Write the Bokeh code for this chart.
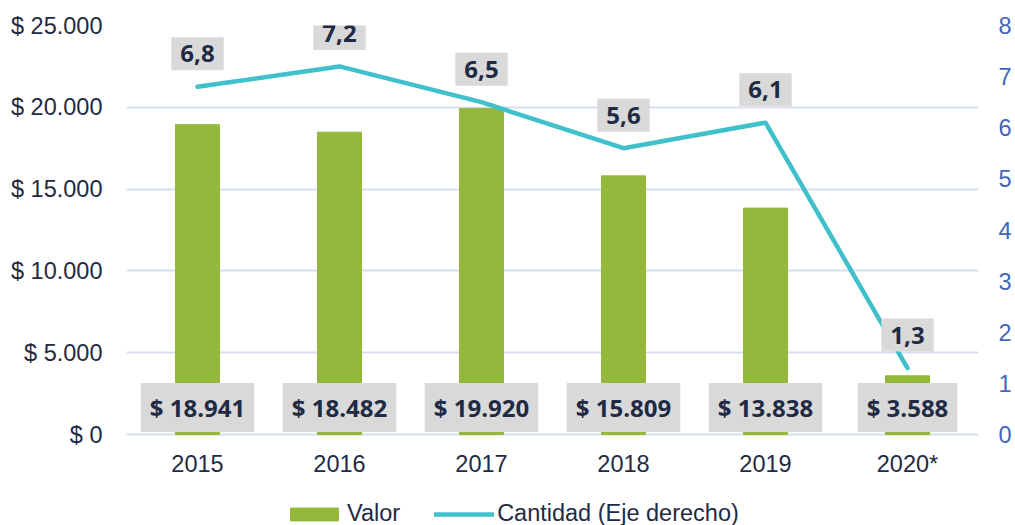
from bokeh.plotting import figure
from bokeh.models import (ColumnDataSource, LinearAxis, Range1d, FactorRange, FixedTicker,
                          Legend, LegendItem)
from bokeh.core.properties import value
from bokeh.embed import file_html
from bokeh.resources import INLINE

years = ["2015", "2016", "2017", "2018", "2019", "2020*"]
valor = [18941, 18482, 19920, 15809, 13838, 3588]
cantidad = [6.8, 7.2, 6.5, 5.6, 6.1, 1.3]
valor_labels = ["$ 18.941", "$ 18.482", "$ 19.920", "$ 15.809", "$ 13.838", "$ 3.588"]
cantidad_labels = ["6,8", "7,2", "6,5", "5,6", "6,1", "1,3"]
left_ticks = [0, 5000, 10000, 15000, 20000, 25000]
left_tick_labels = ["$ 0", "$ 5.000", "$ 10.000", "$ 15.000", "$ 20.000", "$ 25.000"]
right_ticks = [0, 1, 2, 3, 4, 5, 6, 7, 8]

BAR = "#93B83C"
LINE = "#3FC0CA"
TXT = "#1F2A44"
GRID = "#D6DEF0"
BOX = "#D9D9D9"
FONT = "Liberation Sans"
BOLD = "Open Sans"

W, H = 1015, 525
TOP, LEFT, RIGHT = 25, 126, 37
PLOT_H = 409          # pixels from top tick to zero line
BELOW = H - TOP - PLOT_H  # space under the zero line (axis labels + legend)

lmax = left_ticks[-1]
rmax = right_ticks[-1]
lmin = -BELOW * lmax / PLOT_H
rmin = -BELOW * rmax / PLOT_H

src = ColumnDataSource(dict(x=years, valor=valor, cantidad=cantidad,
                            vl=valor_labels, cl=cantidad_labels,
                            base=[0] * len(years)))

p = figure(width=W, height=H, x_range=FactorRange(*years), y_range=Range1d(lmin, lmax),
           output_backend="svg", toolbar_location=None,
           min_border_left=LEFT, min_border_right=RIGHT, min_border_top=TOP, min_border_bottom=0)
p.extra_y_ranges = {"right": Range1d(rmin, rmax)}
p.outline_line_color = None
p.background_fill_color = "white"
p.border_fill_color = "white"

bars = p.vbar(x="x", top="valor", width=0.31, source=src, color=BAR)
line = p.line(x="x", y="cantidad", source=src, y_range_name="right",
              line_color=LINE, line_width=4.5, line_cap="round", line_join="round")

# left axis
p.yaxis.ticker = FixedTicker(ticks=left_ticks)
p.yaxis.major_label_overrides = {t: l for t, l in zip(left_ticks, left_tick_labels)}
ax = p.yaxis[0]
ax.axis_line_color = None
ax.major_tick_line_color = None
ax.minor_tick_line_color = None
ax.major_tick_out = 0
ax.major_label_text_font = FONT
ax.major_label_text_font_size = "23.5px"
ax.major_label_text_color = TXT
ax.major_label_standoff = 24

# right axis
ry = LinearAxis(y_range_name="right", ticker=FixedTicker(ticks=right_ticks))
ry.axis_line_color = None
ry.major_tick_line_color = None
ry.minor_tick_line_color = None
ry.major_tick_out = 0
ry.major_label_text_font = FONT
ry.major_label_text_font_size = "23.5px"
ry.major_label_text_color = "#4466B8"
ry.major_label_standoff = 20
p.add_layout(ry, "right")

# category axis is drawn as text under the zero line
p.xaxis.visible = False
p.xgrid.grid_line_color = None
p.ygrid.grid_line_color = GRID
p.ygrid.grid_line_width = 2
p.ygrid.ticker = FixedTicker(ticks=left_ticks)

p.text(x="x", y="base", text="x", source=src, y_offset=29,
       text_align="center", text_baseline="middle",
       text_font=value(FONT), text_font_size="23.5px", text_color=TXT)

# data labels (padding = horizontal, vertical)
p.text(x="x", y="base", text="vl", source=src, y_offset=-27,
       text_align="center", text_baseline="middle",
       text_font=value(BOLD), text_font_style="bold", text_font_size="24px",
       text_color=TXT, background_fill_color=BOX, padding=[9, 8])
p.text(x="x", y="cantidad", text="cl", source=src, y_range_name="right", y_offset=-33,
       text_align="center", text_baseline="middle",
       text_font=value(BOLD), text_font_style="bold", text_font_size="24px",
       text_color=TXT, background_fill_color=BOX, padding=[9, 8])

legend = Legend(items=[LegendItem(label="Valor", renderers=[bars]),
                       LegendItem(label="Cantidad (Eje derecho)", renderers=[line])],
                orientation="horizontal", location=(158, -2),
                glyph_width=60, glyph_height=16, label_standoff=3, spacing=34,
                padding=0, margin=0, border_line_color=None, background_fill_alpha=0,
                label_text_font=FONT, label_text_font_size="23.5px", label_text_color=TXT,
                label_text_baseline="middle")
p.add_layout(legend, "center")

open("out.html", "w").write(file_html(p, INLINE))
